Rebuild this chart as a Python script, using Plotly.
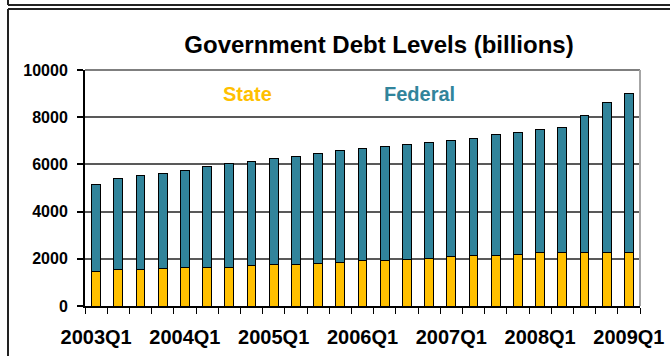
import plotly.graph_objects as go

quarters = ["2003Q1", "2003Q2", "2003Q3", "2003Q4",
            "2004Q1", "2004Q2", "2004Q3", "2004Q4",
            "2005Q1", "2005Q2", "2005Q3", "2005Q4",
            "2006Q1", "2006Q2", "2006Q3", "2006Q4",
            "2007Q1", "2007Q2", "2007Q3", "2007Q4",
            "2008Q1", "2008Q2", "2008Q3", "2008Q4",
            "2009Q1"]
state = [1480, 1540, 1540, 1600, 1650, 1650, 1650, 1710, 1750, 1750, 1810, 1860,
         1920, 1920, 1980, 2030, 2090, 2150, 2150, 2200, 2260, 2260, 2260, 2260, 2260]
federal = [3650, 3880, 3980, 4020, 4100, 4250, 4370, 4420, 4490, 4590, 4650, 4720,
           4760, 4820, 4870, 4880, 4930, 4930, 5100, 5160, 5200, 5310, 5810, 6360, 6750]
y_ticks = [0, 2000, 4000, 6000, 8000, 10000]

W, H = 670, 356
L, R, T, B = 85, 30, 70, 50
PW, PH = W - L - R, H - T - B

def px(x):
    return (x - L) / PW

def py(y):
    return (H - B - y) / PH

FONT = "Arial, Liberation Sans, sans-serif"
GOLD = "#FFC000"
TEAL = "#31849B"

xs = list(range(len(quarters)))
label_idx = [i for i, q in enumerate(quarters) if q.endswith("Q1")]

fig = go.Figure()
fig.add_trace(go.Bar(x=xs, y=state, name="State", width=0.4,
                     marker=dict(color=GOLD, line=dict(color="black", width=1))))
fig.add_trace(go.Bar(x=xs, y=federal, name="Federal", width=0.4,
                     marker=dict(color=TEAL, line=dict(color="black", width=1))))

fig.update_layout(
    width=W, height=H,
    barmode="stack",
    showlegend=False,
    plot_bgcolor="white", paper_bgcolor="white",
    margin=dict(l=L, r=R, t=T, b=B, autoexpand=False),
    title=dict(text="<b>Government Debt Levels (billions)</b>",
               x=379 / W, xref="container", xanchor="center",
               y=1 - 45 / H, yref="container", yanchor="middle",
               font=dict(family=FONT, size=24, color="black"), automargin=False),
    xaxis=dict(range=[-0.5, len(quarters) - 0.5], automargin=False,
               tickvals=label_idx, ticktext=["<b>%s</b>" % quarters[i] for i in label_idx],
               ticks="", showgrid=False, zeroline=False,
               showline=True, linecolor="black", linewidth=2,
               tickfont=dict(family=FONT, size=20, color="black"),
               ticklabelstandoff=12,
               minor=dict(tickvals=[i - 0.5 for i in range(len(quarters) + 1)],
                          ticks="outside", ticklen=6, tickcolor="black",
                          tickwidth=1, showgrid=False)),
    yaxis=dict(range=[0, 10000], tickvals=y_ticks, automargin=False,
               ticktext=["<b>%d</b>" % v for v in y_ticks],
               ticks="outside", ticklen=6, tickcolor="black", tickwidth=2,
               showgrid=True, gridcolor="#595959", gridwidth=1.5,
               zeroline=False, showline=True, linecolor="black", linewidth=2,
               tickfont=dict(family=FONT, size=16, color="black"),
               ticklabelstandoff=6),
    font=dict(family=FONT),
)

fig.add_annotation(text="<b>State</b>", x=px(247), y=py(94), xref="paper", yref="paper",
                   xanchor="center", yanchor="middle",
                   showarrow=False, font=dict(family=FONT, size=20, color=GOLD))
fig.add_annotation(text="<b>Federal</b>", x=px(419), y=py(94), xref="paper", yref="paper",
                   xanchor="center", yanchor="middle",
                   showarrow=False, font=dict(family=FONT, size=20, color=TEAL))

# plot border (top and right)
fig.add_shape(type="line", xref="paper", yref="paper", x0=0, x1=1, y0=1, y1=1,
              line=dict(color="#7F7F7F", width=2))
fig.add_shape(type="line", xref="paper", yref="paper", x0=1, x1=1, y0=0, y1=1,
              line=dict(color="#A6A6A6", width=2))

# outer frame lines
fr = dict(color="#222222", width=2)
fig.add_shape(type="line", xref="paper", yref="paper", x0=px(8), x1=px(672), y0=py(5), y1=py(5), line=fr)
fig.add_shape(type="line", xref="paper", yref="paper", x0=px(8), x1=px(8), y0=py(-2), y1=py(5), line=fr)
fig.add_shape(type="line", xref="paper", yref="paper", x0=px(8), x1=px(672), y0=py(9), y1=py(9), line=fr)
fig.add_shape(type="line", xref="paper", yref="paper", x0=px(8), x1=px(8), y0=py(9), y1=py(360), line=fr)

fig.write_html("out.html", config={"displayModeBar": False},
               post_script="document.body.style.margin='0';document.body.style.overflow='hidden';")
